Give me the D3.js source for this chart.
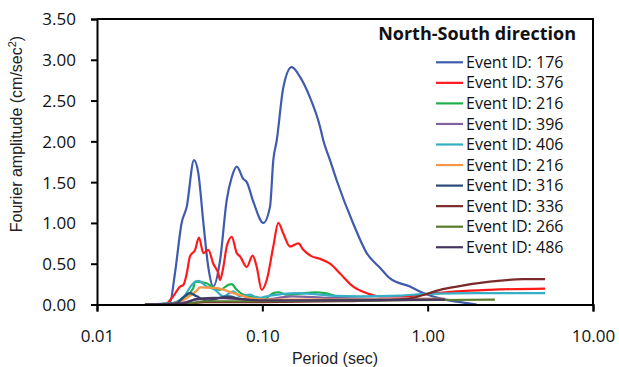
<!DOCTYPE html>
<html><head><meta charset="utf-8">
<script src="https://cdn.jsdelivr.net/npm/d3@7"></script>
<style>
body{margin:0;background:#fff;}
svg{display:block;}
</style></head>
<body>
<svg id="chart" width="619" height="367"></svg>
<script>
// ---- data ----
const yTicks = [0, 0.5, 1.0, 1.5, 2.0, 2.5, 3.0, 3.5];
const xTicks = [0.01, 0.1, 1, 10];
const legendTitle = "North-South direction";
const eventIds = ["176","376","216","396","406","216","316","336","266","486"];
const colors = ["#3F5BAE","#FF1A1A","#1FB04E","#8064A2","#35AFC6","#F79646","#2B4A78","#7A2A2A","#5A7A2C","#45355F"];

const ev176 = [[0.0195,0],[0.0258,0.01],[0.0276,0.02],[0.0296,0.38],[0.0325,1.0],[0.0349,1.2],[0.0386,1.77],[0.0410,1.61],[0.0440,1.0],[0.0471,0.46],[0.0505,0.22],[0.0555,0.54],[0.0609,1.28],[0.0653,1.56],[0.0700,1.69],[0.0767,1.54],[0.0805,1.50],[0.0882,1.26],[0.1014,1.0],[0.1113,1.2],[0.1165,1.77],[0.1222,2.01],[0.1339,2.66],[0.1505,2.91],[0.169,2.79],[0.194,2.54],[0.2233,2.18],[0.2338,2.01],[0.2566,1.77],[0.2818,1.52],[0.355,0.99],[0.428,0.63],[0.515,0.45],[0.592,0.32],[0.782,0.22],[0.941,0.14],[1.188,0.075],[1.498,0.035],[1.98,0]];
const ev376 = [[0.0195,0],[0.0258,0.005],[0.0289,0.1],[0.0318,0.22],[0.0333,0.24],[0.0349,0.38],[0.0365,0.59],[0.0392,0.67],[0.0414,0.82],[0.0440,0.63],[0.0471,0.67],[0.0505,0.50],[0.0542,0.38],[0.0555,0.30],[0.0581,0.46],[0.0609,0.71],[0.0653,0.83],[0.0700,0.63],[0.0733,0.59],[0.0805,0.46],[0.0874,0.60],[0.0925,0.46],[0.0991,0.18],[0.1063,0.30],[0.1165,0.71],[0.1249,1.0],[0.1339,0.87],[0.147,0.71],[0.165,0.75],[0.177,0.67],[0.199,0.59],[0.2233,0.56],[0.2566,0.50],[0.295,0.38],[0.355,0.22],[0.428,0.14],[0.515,0.10],[0.68,0.10],[1.03,0.13],[1.5,0.16],[2.38,0.18],[5.13,0.195]];
const ev216a = [[0.0195,0],[0.0276,0.01],[0.0333,0.08],[0.0382,0.2],[0.0392,0.28],[0.0461,0.26],[0.0494,0.22],[0.0555,0.18],[0.0623,0.24],[0.0653,0.25],[0.0700,0.18],[0.0767,0.12],[0.0842,0.10],[0.0968,0.08],[0.1014,0.06],[0.1165,0.14],[0.1249,0.15],[0.1404,0.12],[0.165,0.13],[0.2083,0.15],[0.2393,0.14],[0.2818,0.10],[0.316,0.07],[0.469,0.06],[0.8,0.06],[1.27,0.06]];
const ev396 = [[0.0195,0],[0.03,0.01],[0.04,0.06],[0.05,0.08],[0.07,0.07],[0.1,0.06],[0.15,0.10],[0.25,0.08],[0.5,0.07],[1.27,0.07]];
const ev406 = [[0.0195,0],[0.0276,0.01],[0.0333,0.09],[0.0382,0.26],[0.0410,0.29],[0.0461,0.22],[0.0517,0.18],[0.0581,0.10],[0.0668,0.16],[0.0733,0.10],[0.0842,0.12],[0.0945,0.08],[0.1063,0.10],[0.1339,0.13],[0.165,0.14],[0.199,0.13],[0.2566,0.11],[0.39,0.10],[0.68,0.11],[1.0,0.13],[2.0,0.14],[5.13,0.14]];
const ev216b = [[0.0195,0],[0.0289,0.01],[0.0349,0.08],[0.0401,0.17],[0.0420,0.21],[0.0530,0.20],[0.0668,0.14],[0.0842,0.08],[0.1063,0.06],[0.2,0.06],[0.5,0.06],[1.0,0.07],[1.27,0.07]];
const ev316 = [[0.0195,0],[0.0296,0.01],[0.0365,0.14],[0.0401,0.10],[0.0461,0.05],[0.0623,0.10],[0.0733,0.07],[0.1,0.04],[0.3,0.05],[1.27,0.06]];
const ev336 = [[0.0195,0],[0.035,0.01],[0.045,0.03],[0.07,0.03],[0.1,0.03],[0.3,0.04],[0.59,0.055],[0.78,0.075],[0.94,0.116],[1.19,0.18],[1.5,0.22],[2.38,0.28],[3.79,0.31],[5.13,0.31]];
const ev266 = [[0.0195,0],[0.035,0.01],[0.045,0.04],[0.07,0.04],[0.1,0.04],[0.5,0.05],[1.27,0.055],[2.55,0.06]];
const ev486 = [[0.0195,0],[0.033,0.01],[0.0401,0.07],[0.06,0.08],[0.08,0.06],[0.1,0.05],[0.3,0.05],[1.27,0.06]];
const seriesData = [ev176, ev376, ev216a, ev396, ev406, ev216b, ev316, ev336, ev266, ev486];

// ---- layout ----
const svg = d3.select("#chart");
const L = 97, R = 593, T = 19, B = 304.5;
const x = d3.scaleLog().domain([0.01, 10]).range([L, R]);
const y = d3.scaleLinear().domain([0, 3.5]).range([B, T]);
const numFont = "'Open Sans', sans-serif";

// frame (top/right)
svg.append("path").attr("d", `M${L},${T}H${R}V${B}`).attr("fill","none").attr("stroke","#000").attr("stroke-width",2);

// lines
const line = d3.line().x(d => x(d[0])).y(d => y(d[1])).curve(d3.curveMonotoneX);
const gLines = svg.append("g");
seriesData.forEach((s, i) => {
  gLines.append("path").attr("d", line(s)).attr("fill","none")
    .attr("stroke", colors[i]).attr("stroke-width", 2.2).attr("stroke-linejoin","round");
});

// axes
const xAxis = svg.append("g").attr("transform", `translate(0,${B})`)
  .call(d3.axisBottom(x).tickValues(xTicks).tickFormat(d3.format(".2f")).tickSize(7).tickPadding(18));
const yAxis = svg.append("g").attr("transform", `translate(${L},0)`)
  .call(d3.axisLeft(y).tickValues(yTicks).tickFormat(d3.format(".2f")).tickSize(6).tickPadding(15));
[xAxis, yAxis].forEach(a => {
  a.select(".domain").attr("stroke","#000").attr("stroke-width",2);
  a.selectAll(".tick line").attr("stroke","#000").attr("stroke-width",2);
  a.selectAll(".tick text").attr("fill","#111").style("font-family", numFont).style("font-size","17px");
});
yAxis.selectAll(".tick text").attr("dy","0.35em");

// axis titles
svg.append("text").attr("x", 335).attr("y", 364).attr("text-anchor","middle")
  .style("font-family","'Liberation Sans', Arial, sans-serif").style("font-size","16px").attr("fill","#222")
  .text("Period (sec)");
const yt = svg.append("text").attr("transform","translate(22,134) rotate(-90)").attr("text-anchor","middle")
  .style("font-family","'Liberation Sans', Arial, sans-serif").style("font-size","16px").attr("fill","#222");
yt.append("tspan").text("Fourier amplitude (cm/sec");
yt.append("tspan").attr("dy",-6).style("font-size","11px").text("2");
yt.append("tspan").attr("dy",6).text(")");

// legend
svg.append("text").attr("x", 576).attr("y", 40).attr("text-anchor","end")
  .style("font-family", numFont).style("font-weight","bold").style("font-size","18px").attr("fill","#111")
  .text(legendTitle);
const lg = svg.append("g");
eventIds.forEach((id, i) => {
  const yy = 62.3 + i * 20.55;
  lg.append("line").attr("x1", 436).attr("x2", 463).attr("y1", yy).attr("y2", yy)
    .attr("stroke", colors[i]).attr("stroke-width", 2.2);
  lg.append("text").attr("x", 466).attr("y", yy).attr("dy","0.35em")
    .style("font-family", numFont).style("font-size","16px").attr("fill","#111")
    .text("Event ID: " + id);
});
</script>
</body></html>
